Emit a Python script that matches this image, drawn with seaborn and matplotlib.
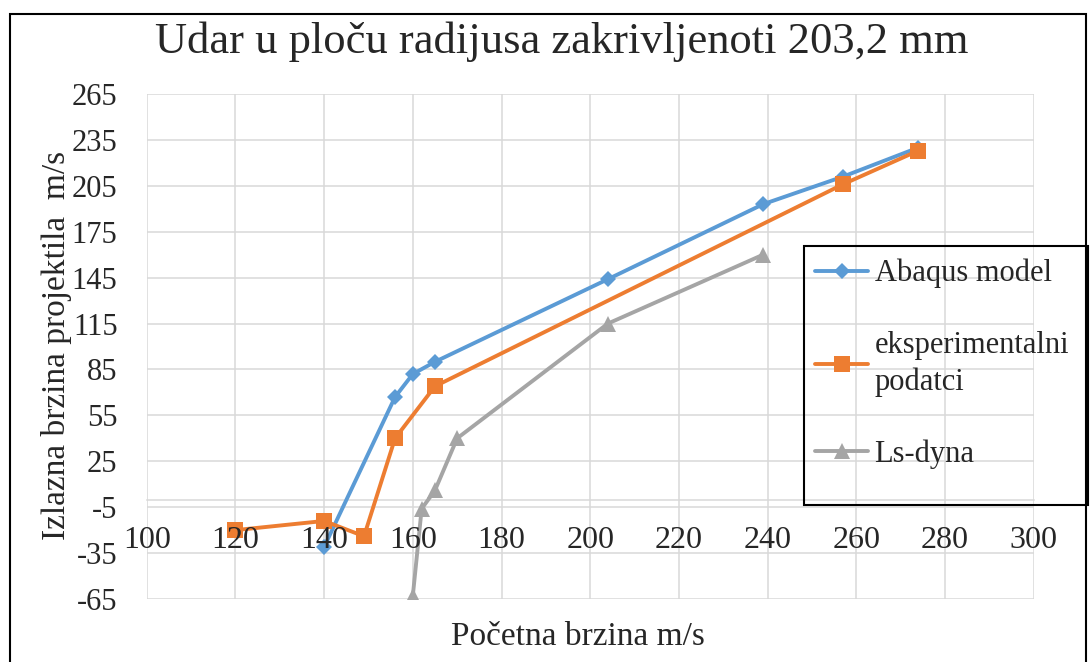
import numpy as np
import pandas as pd
import matplotlib.pyplot as plt
import seaborn as sns
from matplotlib.patches import Rectangle

# data
abaqus_x = [140, 156, 160, 165, 204, 239, 257, 274]
abaqus_y = [-31, 67, 82, 90, 144, 193, 211, 230]

exp_x = [120, 140, 149, 156, 165, 257, 274]
exp_y = [-20, -14, -24, 40, 74, 206, 228]

lsdyna_x = [160, 162, 165, 170, 204, 239]
lsdyna_y = [-63, -6, 6, 40, 115, 160]

x_ticks = [100, 120, 140, 160, 180, 200, 220, 240, 260, 280, 300]
y_ticks = [-65, -35, -5, 25, 55, 85, 115, 145, 175, 205, 235, 265]

title = "Udar u ploču radijusa zakrivljenoti 203,2 mm"
x_label = "Početna brzina m/s"
y_label = "Izlazna brzina projektila  m/s"

sns.set_style("white")
plt.rcParams["font.family"] = ["Liberation Serif", "DejaVu Serif"]
plt.rcParams["axes.unicode_minus"] = False

W, H = 1090, 662
fig = plt.figure(figsize=(W / 100, H / 100), dpi=100)
ax = fig.add_axes([146.7 / W, 1 - 599 / H, (1033.7 - 146.7) / W, (599 - 94) / H])

grid_color = "#D9D9D9"

sns.lineplot(x=abaqus_x, y=abaqus_y, ax=ax, color="#5B9BD5", marker="D",
             markersize=8, markeredgewidth=0, lw=2.8, label="Abaqus model",
             estimator=None, sort=False, zorder=2)
sns.lineplot(x=exp_x, y=exp_y, ax=ax, color="#ED7D31", marker="s",
             markersize=12, markeredgewidth=0, lw=2.8,
             label="eksperimentalni\npodatci",
             estimator=None, sort=False, zorder=2)
sns.lineplot(x=lsdyna_x, y=lsdyna_y, ax=ax, color="#A5A5A5", marker="^",
             markersize=11.5, markeredgewidth=0, lw=2.8, label="Ls-dyna",
             estimator=None, sort=False, zorder=2)

ax.set_xlim(100, 300)
ax.set_ylim(-65, 265)
ax.set_xticks(x_ticks)
ax.set_yticks(y_ticks)
ax.tick_params(axis="both", length=0, labelsize=22)
ax.tick_params(axis="x", pad=19, labelsize=23)
ax.tick_params(axis="y", pad=21)

# grid below the lines, x tick labels above them
ax.set_axisbelow(True)
ax.yaxis.grid(True, color=grid_color, lw=1.1)
ax.xaxis.grid(False)
ax.vlines(x_ticks, -65, 265, color=grid_color, lw=1.1, zorder=0.6)
ax.xaxis.set_zorder(3)

for side in ["top", "right", "left"]:
    ax.spines[side].set_visible(False)
ax.spines["bottom"].set_position(("data", 0))
ax.spines["bottom"].set_color(grid_color)
ax.spines["bottom"].set_linewidth(1.1)
ax.spines["bottom"].set_zorder(0.6)

ax.set_xlabel("")
ax.set_ylabel("")

leg = ax.legend(loc="upper left", bbox_to_anchor=(815 / W, 1 - 259 / H),
                bbox_transform=fig.transFigure, frameon=False, fontsize=22,
                borderpad=0, labelspacing=1.4, handlelength=1.75,
                handletextpad=0.2, borderaxespad=0)
for txt in leg.get_texts():
    txt.set_linespacing(1.3)

fig.add_artist(Rectangle((804 / W, 1 - 505 / H), (1088 - 804) / W, (505 - 246) / H,
                         transform=fig.transFigure, fill=False,
                         edgecolor="black", lw=1.5))
fig.add_artist(Rectangle((10 / W, -0.1), (1086 - 10) / W, (H - 14) / H + 0.1,
                         transform=fig.transFigure, fill=False,
                         edgecolor="black", lw=1.5))

fig.text(562 / W, 1 - 42 / H, title, ha="center", va="center", fontsize=32)
fig.text(578 / W, 1 - 637 / H, x_label, ha="center", va="center", fontsize=24)
fig.text(57 / W, 1 - 345 / H, y_label, ha="center", va="center", fontsize=24,
         rotation=90)

fig.savefig("out.png", dpi=100)
